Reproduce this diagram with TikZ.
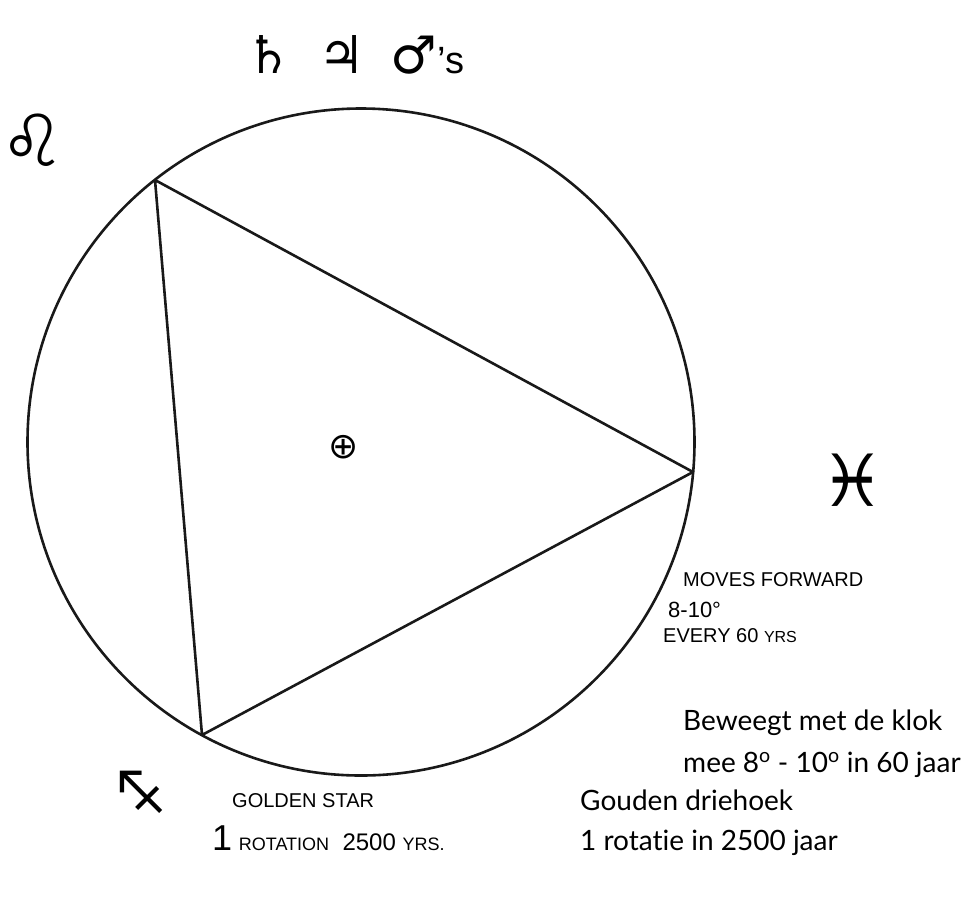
\documentclass[tikz,border=0pt]{standalone}
\usepackage{fontspec}
\usepackage{graphicx}
\setmainfont{Lato}[Ligatures={NoCommon,NoRequired,NoContextual}]
\newfontfamily\symfont{DejaVu Sans}
\newfontfamily\handfont{Liberation Sans}
\begin{document}
\begin{tikzpicture}[x=1pt,y=-1pt,
  ink/.style={line width=2.6pt, black!90},
  sign/.style={font=\symfont, inner sep=0pt},
  hand/.style={font=\handfont\fontsize{20}{24}\selectfont, anchor=base west, inner sep=0pt},
  typed/.style={font=\fontsize{28}{34}\selectfont, anchor=base west, inner sep=0pt}]
  \useasboundingbox (0,0) rectangle (979,922);
  % cirkel en driehoek
  \draw[ink] (361,442) circle[radius=333.5];
  \coordinate (topv) at (155,180);
  \coordinate (rightv) at (693,472);
  \coordinate (lowv) at (202,735);
  \draw[ink, line join=round] (topv) -- (rightv) -- (lowv) -- cycle;
  % middelpunt
  \node[sign, font=\symfont\fontsize{36}{36}\selectfont] (earth) at (344,447) {⊕};
  % planeten bovenaan
  \node[sign, font=\symfont\fontsize{52}{52}\selectfont] (planets) at (355,55) {♄\,\,\,♃\,\,\,♂\handfont\fontsize{38}{38}\selectfont’s};
  % tekens
  \node[sign, font=\symfont\fontsize{72}{72}\selectfont] (leo) at (33,140) {♌};
  \node[sign, font=\symfont\fontsize{72}{72}\selectfont] (pisces) at (853,480) {♓};
  \node[sign, font=\symfont\fontsize{58}{58}\selectfont] (sagit) at (141,792) {\scalebox{-1}[1]{♐}};
  % handgeschreven
  \node[hand] (moves) at (683,586) {MOVES FORWARD};
  \node[hand, font=\handfont\fontsize{22}{24}\selectfont] (deg) at (668,617) {8-10°};
  \node[hand] (every) at (663,642) {EVERY 60 {\fontsize{16}{16}\selectfont YRS}};
  \node[hand] (golden) at (232,807) {GOLDEN STAR};
  \node[hand, font=\handfont\fontsize{24}{28}\selectfont] (rotation) at (212,850) {{\fontsize{36}{36}\selectfont 1} {\fontsize{18}{18}\selectfont ROTATION}\ \ 2500 {\fontsize{18}{18}\selectfont YRS.}};
  % getypt
  \node[typed] (klok1) at (683,730) {Beweegt met de klok};
  \node[typed] (klok2) at (683,772) {mee 8\textsuperscript{o} - 10\textsuperscript{o} in 60 jaar};
  \node[typed] (drie1) at (580,810) {Gouden driehoek};
  \node[typed] (drie2) at (580,850) {1 rotatie in 2500 jaar};
\end{tikzpicture}
\end{document}
